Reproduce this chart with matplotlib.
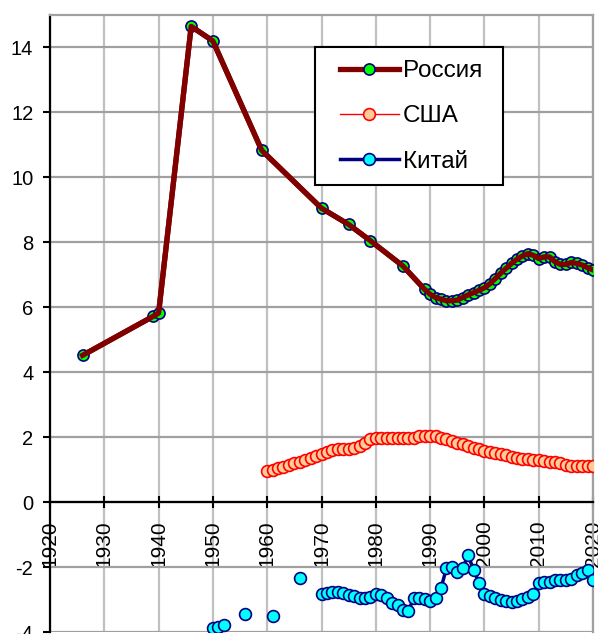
import numpy as np
import matplotlib.pyplot as plt
from matplotlib.patches import Rectangle

plt.rcParams['font.family'] = ['Liberation Sans', 'DejaVu Sans']
plt.rcParams['axes.unicode_minus'] = False

# Россия
rus_years = [1926, 1939, 1940, 1946, 1950, 1959, 1970, 1975, 1979, 1985, 1989,
             1990, 1991, 1992, 1993, 1994, 1995, 1996, 1997, 1998, 1999, 2000,
             2001, 2002, 2003, 2004, 2005, 2006, 2007, 2008, 2009, 2010, 2011,
             2012, 2013, 2014, 2015, 2016, 2017, 2018, 2019, 2020]
rus_vals = [4.52, 5.72, 5.82, 14.65, 14.2, 10.83, 9.05, 8.55, 8.05, 7.27, 6.55,
            6.4, 6.3, 6.25, 6.2, 6.2, 6.22, 6.3, 6.38, 6.45, 6.52, 6.6,
            6.72, 6.88, 7.05, 7.2, 7.35, 7.48, 7.58, 7.65, 7.6, 7.5, 7.55,
            7.55, 7.4, 7.32, 7.32, 7.38, 7.35, 7.3, 7.22, 7.15]

# США
usa_years = list(range(1960, 2021))
usa_vals = [0.97, 1.0, 1.04, 1.08, 1.13, 1.19, 1.24, 1.29, 1.35, 1.42,
            1.49, 1.55, 1.59, 1.62, 1.64, 1.65, 1.66, 1.72, 1.82, 1.93,
            1.98, 1.98, 1.98, 1.98, 1.98, 1.98, 1.97, 1.98, 2.03, 2.05,
            2.05, 2.03, 1.98, 1.93, 1.88, 1.83, 1.78, 1.73, 1.68, 1.64,
            1.58, 1.55, 1.52, 1.48, 1.44, 1.40, 1.37, 1.34, 1.32, 1.31,
            1.30, 1.28, 1.25, 1.22, 1.19, 1.14, 1.12, 1.11, 1.10, 1.10,
            1.10]

# Китай (ранние отдельные точки и ряд с 1970)
chn_early_years = [1950, 1951, 1952, 1956, 1961, 1966]
chn_early_vals = [-3.89, -3.84, -3.78, -3.46, -3.51, -2.35]
chn_years = list(range(1970, 2021))
chn_vals = [-2.83, -2.79, -2.77, -2.77, -2.81, -2.86, -2.90, -2.94, -2.96, -2.93,
            -2.82, -2.87, -2.95, -3.12, -3.18, -3.32, -3.34, -2.96, -2.96, -2.98,
            -3.03, -2.96, -2.66, -2.04, -1.99, -2.16, -2.04, -1.63, -2.09, -2.48,
            -2.83, -2.89, -2.96, -3.00, -3.04, -3.07, -3.06, -2.99, -2.91, -2.83,
            -2.48, -2.47, -2.45, -2.40, -2.40, -2.40, -2.38, -2.25, -2.19, -2.09,
            -2.40]

fig = plt.figure(figsize=(5.98, 6.34), dpi=100)
ax = fig.add_axes([50/598, 2/634, 543/598, 617/634])

ax.plot(rus_years, rus_vals, color='#800000', lw=3.8, marker='o', ms=8,
        mfc='#00ff00', mec='#000080', mew=1.2, label='Россия', zorder=3)
ax.plot(rus_years, rus_vals, color='#800000', lw=3.8, zorder=3.1)

ax.plot(usa_years, usa_vals, color='#ff0000', lw=1, marker='o', ms=8.5,
        mfc='#ffcc99', mec='#ff0000', mew=1.2, label='США', zorder=3)

ax.plot(chn_years, chn_vals, color='#000080', lw=2.5, marker='o', ms=8.5,
        mfc='#00ffff', mec='#000080', mew=1.2, label='Китай', zorder=3)
ax.plot(chn_early_years, chn_early_vals, ls='none', marker='o', ms=8.5,
        mfc='#00ffff', mec='#000080', mew=1.2, zorder=3)

ax.set_xlim(1920, 2020)
ax.set_ylim(-4, 15)
ax.set_xticks(range(1920, 2021, 10))
ax.set_yticks(range(-4, 15, 2))
ax.set_axisbelow(True)
ax.xaxis.grid(True, color='#c0c0c0', lw=1.6)
ax.yaxis.grid(True, color='#a0a0a0', lw=1.6)

ax.spines['bottom'].set_position(('data', 0))
ax.spines['bottom'].set_linewidth(1.6)
ax.spines['left'].set_linewidth(1.6)
ax.spines['top'].set_color('#a0a0a0')
ax.spines['right'].set_color('#a0a0a0')
ax.spines['top'].set_linewidth(1.6)
ax.spines['right'].set_linewidth(1.6)

ax.tick_params(axis='x', direction='inout', length=8, width=1.5, labelsize=15,
               labelrotation=90, pad=9)
ax.tick_params(axis='y', direction='out', length=5, width=1.5, labelsize=14.5, pad=7)

# legend frame drawn as a plain box, entries placed inside it
ax.add_patch(Rectangle((0.488, 0.7245), 0.346, 0.2235, transform=ax.transAxes,
                       facecolor='white', edgecolor='black', lw=1.5, zorder=4.9))
leg = ax.legend(loc='upper left', bbox_to_anchor=(0.534, 0.927), fontsize=17.5,
                frameon=False, handlelength=2.43, handletextpad=0.16,
                labelspacing=0.96, borderpad=0, borderaxespad=0)
leg.set_zorder(5)

plt.savefig('out.png', dpi=100)
